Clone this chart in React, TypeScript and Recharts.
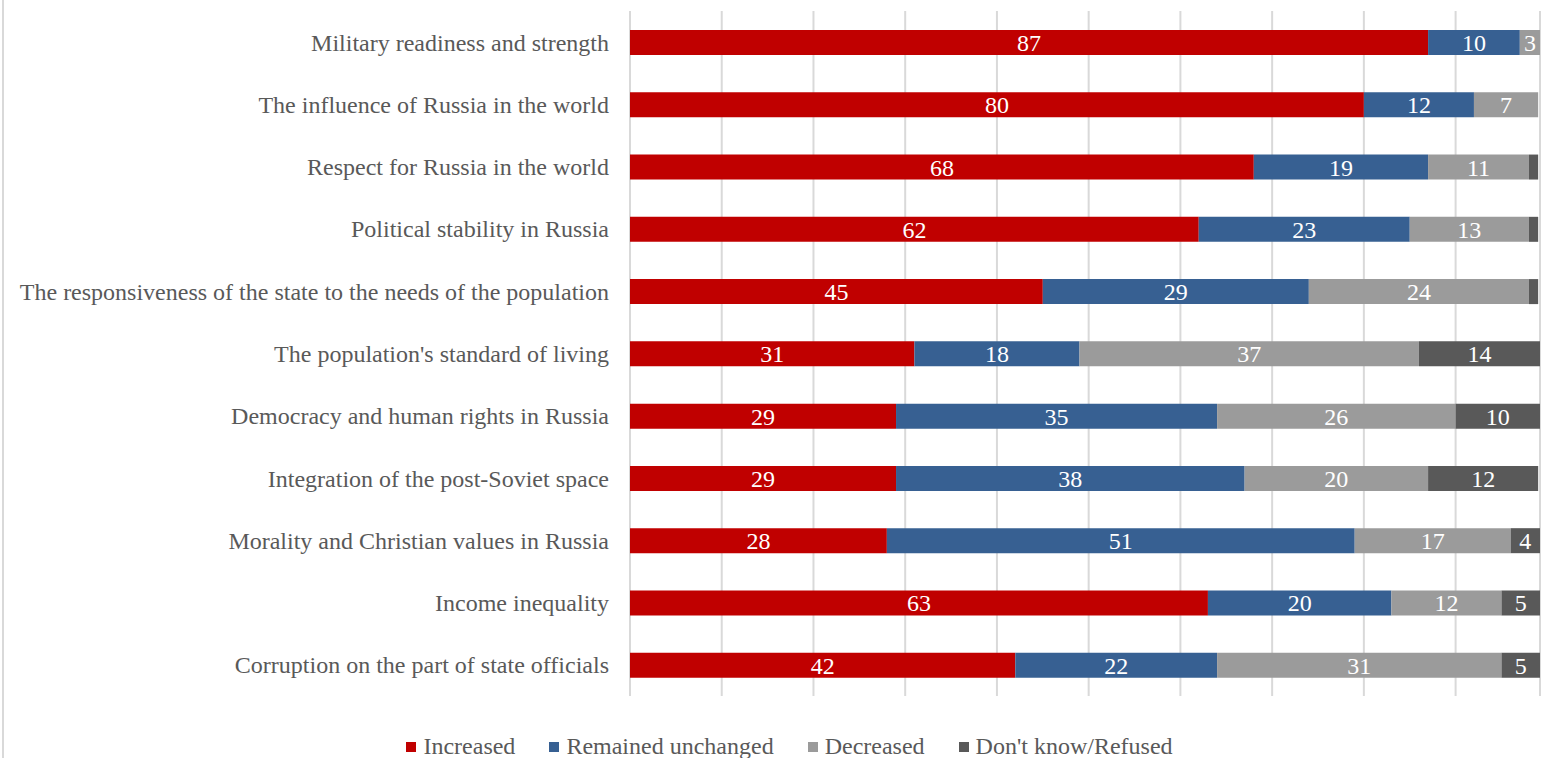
import { BarChart, Bar, XAxis, YAxis, CartesianGrid, LabelList } from 'recharts'

const categories = [
  'Military readiness and strength',
  'The influence of Russia in the world',
  'Respect for Russia in the world',
  'Political stability in Russia',
  'The responsiveness of the state to the needs of the population',
  "The population's standard of living",
  'Democracy and human rights in Russia',
  'Integration of the post-Soviet space',
  'Morality and Christian values in Russia',
  'Income inequality',
  'Corruption on the part of state officials',
]
const increased = [87, 80, 68, 62, 45, 31, 29, 29, 28, 63, 42]
const unchanged = [10, 12, 19, 23, 29, 18, 35, 38, 51, 20, 22]
const decreased = [3, 7, 11, 13, 24, 37, 26, 20, 17, 12, 31]
const dontKnow = [0, 0, 1, 1, 1, 14, 10, 12, 4, 5, 5]
const xTicks = [0, 10, 20, 30, 40, 50, 60, 70, 80, 90]

const seriesList = [
  { key: 'increased', name: 'Increased', color: '#c00000' },
  { key: 'unchanged', name: 'Remained unchanged', color: '#376092' },
  { key: 'decreased', name: 'Decreased', color: '#9b9b9b' },
  { key: 'dontKnow', name: "Don't know/Refused", color: '#595959' },
]

const font = '"Liberation Serif", "Times New Roman", serif'

const chartData = categories.map((name, i) => ({
  name,
  increased: increased[i],
  unchanged: unchanged[i],
  decreased: decreased[i],
  dontKnow: dontKnow[i],
}))

function LegendBox() {
  return (
    <div
      style={{
        position: 'absolute',
        left: 0,
        top: 731,
        width: 1551,
        display: 'flex',
        justifyContent: 'center',
        gap: 34,
        fontFamily: font,
        fontSize: 24,
        lineHeight: '30px',
        color: '#595959',
        paddingLeft: 28,
        boxSizing: 'border-box',
      }}
    >
      {seriesList.map((s) => (
        <div key={s.key} style={{ display: 'flex', alignItems: 'center' }}>
          <span style={{ display: 'inline-block', width: 10, height: 10, background: s.color, marginRight: 7, marginTop: 2 }} />
          <span>{s.name}</span>
        </div>
      ))}
    </div>
  )
}

export default function App() {
  return (
    <div style={{ position: 'absolute', left: 0, top: 0, width: 1551, height: 758, overflow: 'hidden', background: '#fff' }}>
      <div style={{ position: 'absolute', left: 2, top: 0, width: 2, height: 758, background: '#d9d9d9' }} />
      <BarChart
        width={1551}
        height={758}
        data={chartData}
        layout="vertical"
        barSize={25}
        margin={{ top: 11, right: 11, left: 0, bottom: 62 }}
        style={{ fontFamily: font }}
      >
        <CartesianGrid horizontal={false} stroke="#d9d9d9" strokeWidth={2} />
        <XAxis type="number" domain={[0, 99.2]} allowDataOverflow ticks={xTicks} hide />
        <YAxis
          type="category"
          dataKey="name"
          width={630}
          axisLine={false}
          tickLine={false}
          tickSize={0}
          tickMargin={21}
          tick={{ fill: '#595959', fontSize: 24, fontFamily: font }}
        />
        {seriesList.map((s) => (
          <Bar key={s.key} dataKey={s.key} name={s.name} stackId="a" fill={s.color} isAnimationActive={false}>
            <LabelList
              dataKey={s.key}
              position="center"
              fill="#ffffff"
              style={{ fontSize: 24, fontFamily: font }}
              formatter={(v: any) => (Number(v) >= 3 ? v : '')}
            />
          </Bar>
        ))}
      </BarChart>
      <LegendBox />
    </div>
  )
}
